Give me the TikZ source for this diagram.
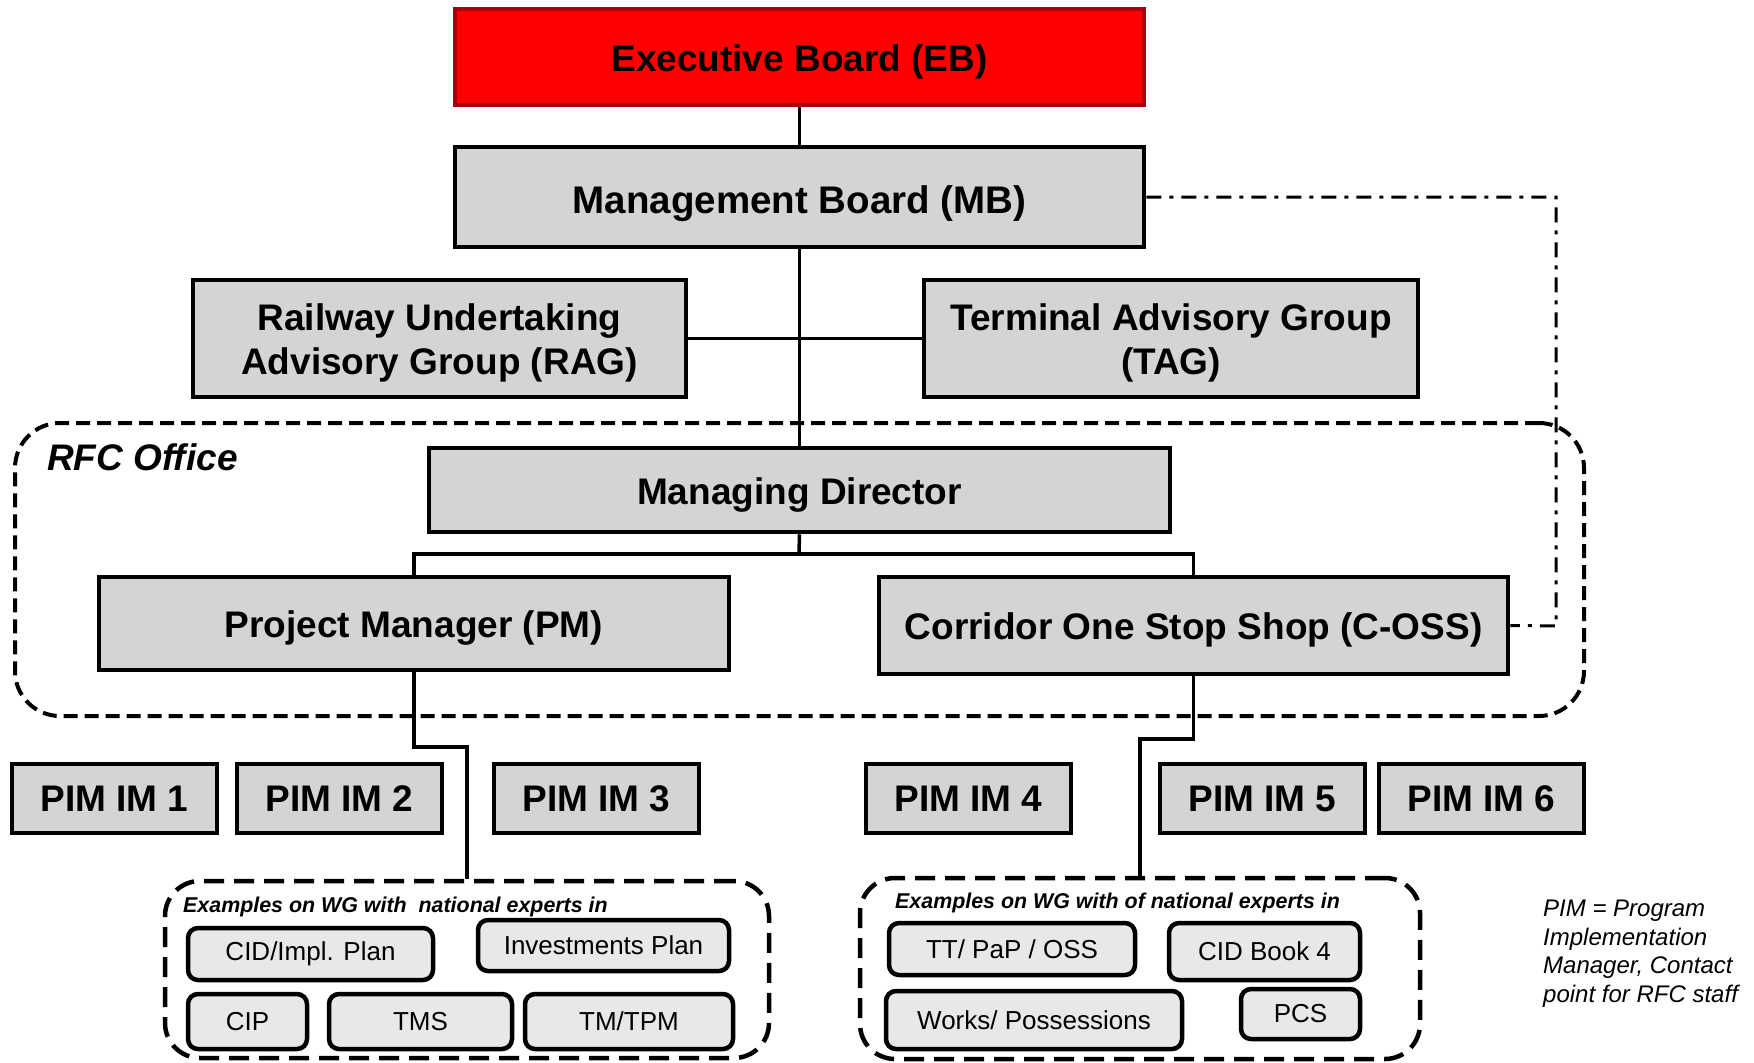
\documentclass[tikz,border=0pt]{standalone}
\usepackage{fontspec}
\setmainfont{Liberation Sans}
\definecolor{boxgray}{RGB}{212,212,212}
\definecolor{wggray}{RGB}{232,232,232}
\definecolor{ebred}{RGB}{255,0,0}
\definecolor{ebborder}{RGB}{168,0,16}
\newcommand\mybox[7]{\node[#6, minimum width={#4-#2}, minimum height={#5-#3}] (#1) at ({(#2+#4)/2},{(#3+#5)/2}) {#7};}
\newcommand\tallstrut[1]{\rule{0pt}{#1}}
\begin{document}
\begin{tikzpicture}[x=1pt,y=-1pt,
  pimbox/.style={draw=black, line width=4.5pt, fill=boxgray, inner sep=0pt, align=center,
    font=\fontsize{37}{44}\selectfont\bfseries},
  box/.style={pimbox, execute at begin node={\tallstrut{36pt}}},
  ebbox/.style={box, draw=ebborder, fill=ebred},
  wg/.style={draw=black, line width=4.5pt, fill=wggray, rounded corners=10pt, inner sep=0pt,
    font=\fontsize{26}{30}\selectfont},
  office/.style={draw=black, line width=4pt, dash pattern=on 14pt off 7pt, rounded corners=45pt, inner sep=0pt},
  wgframe/.style={draw=black, line width=4.5pt, dash pattern=on 20pt off 10pt, rounded corners=35pt, inner sep=0pt},
  conn/.style={line width=3.5pt},
  dashdotline/.style={line width=3pt, dash pattern=on 15pt off 8pt on 4pt off 8pt},
  wgtitle/.style={anchor=west, inner sep=0pt, font=\fontsize{21.4}{25}\selectfont\bfseries\itshape},
]
\useasboundingbox (0,0) rectangle (1754,1063);

% frames
\mybox{rfc}{15}{423}{1584}{716}{office}{}
\mybox{wgl}{165}{881}{769}{1058}{wgframe}{}
\mybox{wgr}{860}{878}{1420}{1059}{wgframe}{}

% main boxes
\mybox{eb}{455}{9}{1144}{105}{ebbox}{Executive Board (EB)}
\mybox{mb}{455}{147}{1144}{247}{pimbox, font=\fontsize{38.5}{44}\selectfont\bfseries, execute at begin node={\tallstrut{41pt}}}{Management Board (MB)}
\mybox{rag}{193}{280}{686}{397}{pimbox}{\tallstrut{36pt}Railway Undertaking\\Advisory Group (RAG)}
\mybox{tag}{924}{280}{1418}{397}{pimbox}{\tallstrut{36pt}Terminal Advisory Group\\(TAG)}
\mybox{md}{429}{448}{1170}{532}{box}{Managing Director}
\mybox{pm}{99}{577}{729}{670}{box}{Project Manager (PM)}
\mybox{cos}{879}{577}{1508}{674}{box}{Corridor One Stop Shop (C-OSS)}

\node[anchor=west, inner sep=0pt, font=\fontsize{37}{40}\selectfont\bfseries\itshape] (rfclabel) at (47,457) {RFC Office};

% PIM boxes
\mybox{pim1}{12}{764}{217}{833}{pimbox}{PIM IM 1}
\mybox{pim2}{237}{764}{442}{833}{pimbox}{PIM IM 2}
\mybox{pim3}{494}{764}{699}{833}{pimbox}{PIM IM 3}
\mybox{pim4}{866}{764}{1071}{833}{pimbox}{PIM IM 4}
\mybox{pim5}{1160}{764}{1365}{833}{pimbox}{PIM IM 5}
\mybox{pim6}{1379}{764}{1584}{833}{pimbox}{PIM IM 6}

% WG boxes
\node[wgtitle] (wgltitle) at (183,907) {Examples on WG with~~national experts in};
\node[wgtitle] (wgrtitle) at (895,903) {Examples on WG with of national experts in};
\mybox{cid}{188}{928}{433}{980}{wg}{CID/Impl. Plan}
\mybox{inv}{478}{920}{729}{971}{wg}{Investments Plan}
\mybox{cip}{188}{994}{307}{1049}{wg}{CIP}
\mybox{tms}{329}{994}{512}{1049}{wg}{TMS}
\mybox{tmtpm}{525}{994}{733}{1049}{wg}{TM/TPM}
\mybox{ttpap}{889}{923}{1135}{975}{wg}{TT/ PaP / OSS}
\mybox{cidb}{1169}{923}{1360}{980}{wg}{CID Book 4}
\mybox{works}{886}{991}{1182}{1049}{wg}{Works/ Possessions}
\mybox{pcs}{1241}{989}{1360}{1039}{wg}{PCS}

\node[anchor=north west, inner sep=0pt, align=left, font=\fontsize{24}{28.5}\selectfont\itshape] (note) at (1543,900)
  {PIM = Program\\Implementation\\Manager, Contact\\point for RFC staff};

% connectors
\coordinate (split) at (799,554);
\coordinate (ddc) at (1556,626);
\draw[conn] (eb.south) -- (mb.north);
\draw[conn] (mb.south) -- (md.north);
\draw[conn] (rag.east) -- (tag.west);
\draw[conn] (md.south) -- (split);
\draw[conn] (pm.north) |- (split) -| (cos.north);
\draw[conn] (pm.south) -- (pm.south |- 0,747) -| (wgl.north);
\draw[conn] (cos.south) -- (cos.south |- 0,739) -| (wgr.north);
\draw[dashdotline] (mb.east) -| (ddc) -- (cos.east);
\end{tikzpicture}
\end{document}
